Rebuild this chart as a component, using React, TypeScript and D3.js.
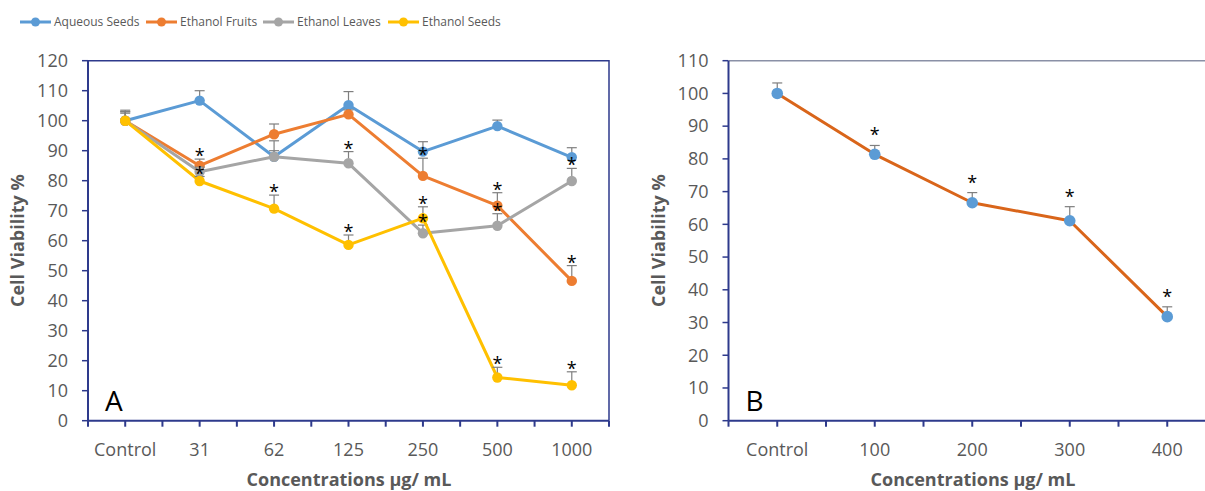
import React from 'react';
import * as d3 from 'd3';

// Panel A: extracts at several concentrations
const catsA = ['Control', '31', '62', '125', '250', '500', '1000'];
const aqueousSeeds = [100, 106.7, 88, 105.2, 89.7, 98.2, 87.8];
const aqueousSeedsErr = [3.5, 3.3, 2, 4.5, 3.3, 2, 3.2];
const aqueousSeedsStar = [0, 0, 0, 0, 0, 0, 0];
const ethanolFruits = [100, 85, 95.5, 102.1, 81.6, 71.7, 46.6];
const ethanolFruitsErr = [3, 2.2, 3.4, 1.5, 5.9, 4.3, 5.1];
const ethanolFruitsStar = [0, 1, 0, 0, 1, 1, 1];
const ethanolLeaves = [100, 83, 88, 85.8, 62.5, 65, 79.9];
const ethanolLeavesErr = [3, 1.5, 5.3, 3.9, 2.7, 4, 4.2];
const ethanolLeavesStar = [0, 0, 0, 1, 1, 1, 1];
const ethanolSeeds = [100, 79.9, 70.7, 58.6, 67.5, 14.4, 11.8];
const ethanolSeedsErr = [2.5, 1.5, 4.5, 3.3, 3.8, 3.4, 4.5];
const ethanolSeedsStar = [0, 1, 1, 1, 1, 1, 1];
const yTicksA = [0, 10, 20, 30, 40, 50, 60, 70, 80, 90, 100, 110, 120];

// Panel B
const catsB = ['Control', '100', '200', '300', '400'];
const viabilityB = [100, 81.4, 66.6, 61.1, 31.8];
const viabilityBErr = [3.2, 2.7, 3.1, 4.3, 3.0];
const viabilityBStar = [0, 1, 1, 1, 1];
const yTicksB = [0, 10, 20, 30, 40, 50, 60, 70, 80, 90, 100, 110];

const seriesA = [
  { name: 'Aqueous Seeds', color: '#5B9BD5', values: aqueousSeeds, err: aqueousSeedsErr, star: aqueousSeedsStar },
  { name: 'Ethanol Fruits', color: '#ED7D31', values: ethanolFruits, err: ethanolFruitsErr, star: ethanolFruitsStar },
  { name: 'Ethanol Leaves', color: '#A5A5A5', values: ethanolLeaves, err: ethanolLeavesErr, star: ethanolLeavesStar },
  { name: 'Ethanol Seeds', color: '#FFC000', values: ethanolSeeds, err: ethanolSeedsErr, star: ethanolSeedsStar },
];

const FONT = "'Open Sans', sans-serif";
const AXIS = '#2E3A8C';
const TEXT = '#595959';
const legendX = [20, 146, 263, 388];

function Panel({ cats, series, yTicks, left, right, top, bottom, yMax, letter, starGap, frame, r, titleX }: any) {
  const x = d3.scaleBand().domain(cats).range([left, right]).padding(0);
  const bw = x.bandwidth();
  const cx = (c: string) => (x(c) as number) + bw / 2;
  const y = d3.scaleLinear().domain([0, yMax]).range([bottom, top]);
  const line = d3.line<number>().x((_, i) => cx(cats[i])).y(d => y(d));
  const xTicks = d3.range(0, cats.length * 2 + 1).map(i => left + (i * bw) / 2);
  const mid = (top + bottom) / 2;
  const plotRight = Math.min(right, 1205);

  return (
    <g>
      {/* y axis */}
      {yTicks.map((t: number) => (
        <g key={t}>
          <line x1={left - 6} x2={left} y1={y(t)} y2={y(t)} stroke={AXIS} strokeWidth={1.5} />
          <text x={left - 20} y={y(t)} dy="0.35em" textAnchor="end" fontSize={18} fill={TEXT} fontFamily={FONT}>{t}</text>
        </g>
      ))}
      {/* frame */}
      {frame ? (
        <path d={`M${left},${top}H${right}V${bottom}`} fill="none" stroke={AXIS} strokeWidth={1.5} />
      ) : (
        <line x1={left} x2={plotRight} y1={top} y2={top} stroke="#8A90A6" strokeWidth={1.5} />
      )}
      <line x1={left} x2={left} y1={top} y2={bottom} stroke={AXIS} strokeWidth={2} />
      <line x1={left} x2={plotRight} y1={bottom} y2={bottom} stroke={AXIS} strokeWidth={2} />
      {xTicks.map((t: number, i: number) => (
        <line key={i} x1={t} x2={t} y1={bottom} y2={bottom + 6} stroke={AXIS} strokeWidth={2} />
      ))}
      {cats.map((c: string) => (
        <text key={c} x={cx(c)} y={bottom + 29} dy="0.35em" textAnchor="middle" fontSize={18} fill={TEXT} fontFamily={FONT}>{c}</text>
      ))}
      <text x={titleX} y={bottom + 59} dy="0.35em" textAnchor="middle" fontSize={18} fontWeight="bold" fill={TEXT} fontFamily={FONT}>Concentrations μg/ mL</text>
      <text transform={`translate(${left - 70},${mid}) rotate(-90)`} textAnchor="middle" dy="0.35em" fontSize={18} fontWeight="bold" fill={TEXT} fontFamily={FONT}>Cell Viability %</text>
      <text x={left + 17} y={bottom - 10} fontSize={28} fill="#000" fontFamily={FONT}>{letter}</text>

      {/* series */}
      {series.map((s: any) => (
        <g key={s.name}>
          <path d={line(s.values) as string} fill="none" stroke={s.lineColor || s.color} strokeWidth={3} strokeLinejoin="round" />
          {s.values.map((v: number, i: number) => (
            <g key={i}>
              <line x1={cx(cats[i])} x2={cx(cats[i])} y1={y(v)} y2={y(v + s.err[i])} stroke="#7F7F7F" strokeWidth={1.2} />
              <line x1={cx(cats[i]) - 5} x2={cx(cats[i]) + 5} y1={y(v + s.err[i])} y2={y(v + s.err[i])} stroke="#7F7F7F" strokeWidth={1.2} />
            </g>
          ))}
          {s.values.map((v: number, i: number) => (
            <circle key={i} cx={cx(cats[i])} cy={y(v)} r={r} fill={s.color} />
          ))}
        </g>
      ))}
      {/* significance stars */}
      {series.map((s: any) =>
        s.values.map((v: number, i: number) =>
          s.star[i] ? (
            <text key={s.name + i} x={cx(cats[i])} y={y(v + s.err[i]) - starGap + 10} textAnchor="middle" fontSize={18} fill="#000" fontFamily={FONT}>*</text>
          ) : null
        )
      )}
    </g>
  );
}

export default function App() {
  const seriesB = [
    { name: 'B', color: '#5B9BD5', lineColor: '#D9651A', values: viabilityB, err: viabilityBErr, star: viabilityBStar },
  ];
  return (
    <div style={{ position: 'fixed', left: 0, top: 0 }}>
      <svg width={1205} height={491} style={{ display: 'block', background: '#fff' }}>
        {/* legend */}
        {seriesA.map((s, i) => (
          <g key={s.name} transform={`translate(${legendX[i]},22)`}>
            <line x1={0} x2={31} y1={0} y2={0} stroke={s.color} strokeWidth={3} />
            <circle cx={15.5} cy={0} r={4.5} fill={s.color} />
            <text x={34} y={0} dy="0.35em" fontSize={12} fill={TEXT} fontFamily={FONT}>{s.name}</text>
          </g>
        ))}
        <Panel cats={catsA} series={seriesA} yTicks={yTicksA} left={88} right={609} top={60.7} bottom={420.7} yMax={120} letter="A" starGap={7} frame r={5.2} titleX={349} />
        <Panel cats={catsB} series={seriesB} yTicks={yTicksB} left={728.5} right={1216} top={60.7} bottom={420.7} yMax={110} letter="B" starGap={14} frame={false} r={5.8} titleX={973} />
      </svg>
    </div>
  );
}
